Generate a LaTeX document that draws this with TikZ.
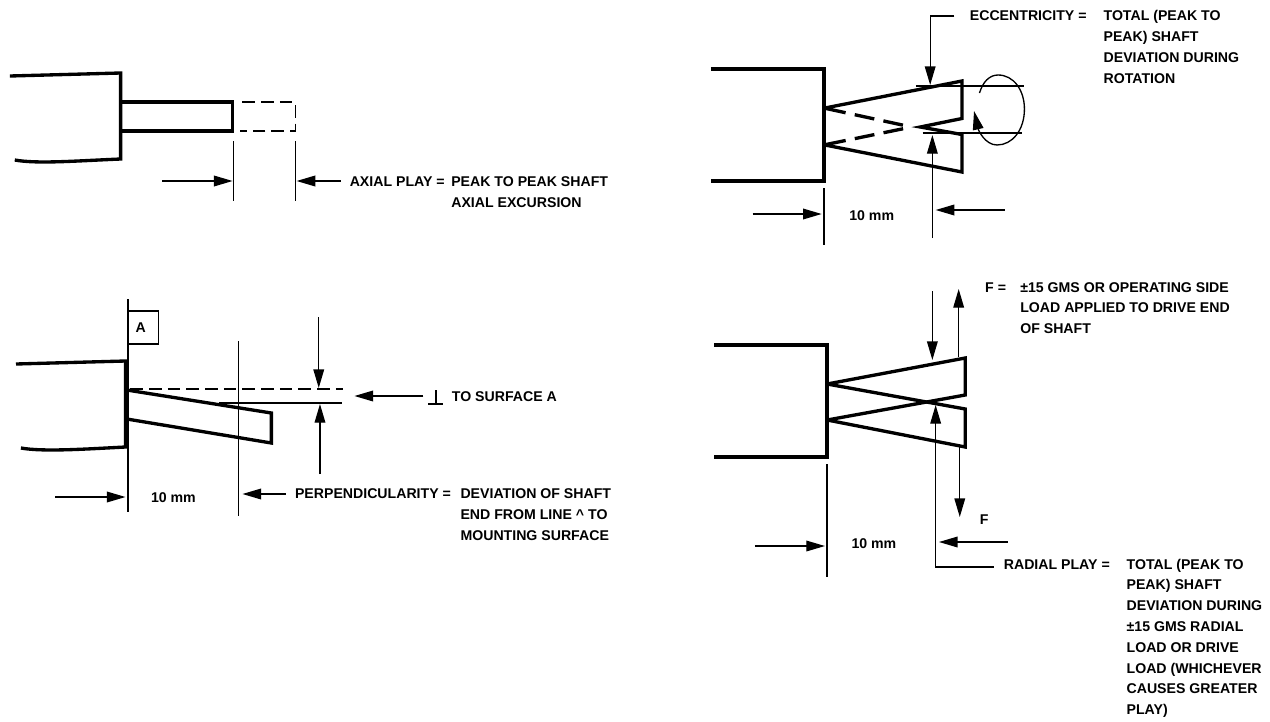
\documentclass[tikz,border=0pt]{standalone}
\usepackage{fontspec}
\setmainfont{Liberation Sans Bold}
\usetikzlibrary{arrows.meta}
\newcommand{\mlines}[1]{\begin{tabular}[t]{@{}l@{}}#1\end{tabular}}
\tikzset{
  thick line/.style={line width=2.5pt,line join=miter},
  thin line/.style={line width=1pt},
  dim/.style={line width=1pt,-{Triangle[length=14pt,width=8pt]}},
  dash thin/.style={line width=1pt,dash pattern=on 9.5pt off 4.5pt},
  dash mid/.style={line width=2.5pt,dash pattern=on 15pt off 7pt},
  txt/.style={anchor=base west,inner sep=0pt,font=\fontsize{10.6pt}{16.1pt}\selectfont},
  txtr/.style={anchor=base west,inner sep=0pt,font=\fontsize{10.6pt}{15.6pt}\selectfont}
}
\begin{document}
\begin{tikzpicture}[x=0.75pt,y=-0.75pt]
\useasboundingbox (0,0) rectangle (1270,721);
\begin{scope}[x=0.923pt]
% ---- axial play
\draw[thick line] (8,76) -- (98,73) -- (98,159) .. controls (60,161) and (30,164) .. (12,160);
\draw[thick line] (98,102) -- (189,102) -- (189,131) -- (98,131);
\draw[dash thin] (197,102) -- (240,102) -- (240,131) -- (195,131);
\draw[thin line] (190,141) -- (190,201);
\draw[thin line] (240,141) -- (240,201);
\draw[dim] (132,181) -- (189,181);
\draw[dim] (277,181) -- (241,181);
\node[txt] (axl) at (284,186) {AXIAL PLAY =};
\node[txt] (axt) at (366.5,186) {\mlines{PEAK TO PEAK SHAFT\\AXIAL EXCURSION}};
% ---- perpendicularity
\draw[thin line] (104,299) -- (104,512);
\draw[thin line] (104,311) -- (129,311) -- (129,344) -- (104,344);
\node[txt] (a) at (110,332) {A};
\draw[thick line] (13,364) -- (102,361) -- (102,447) .. controls (70,449) and (35,452) .. (17,448);
\draw[thick line] (103,390) -- (220.5,413) -- (220.5,443) -- (103,419);
\draw[dash thin] (106,389) -- (279,389);
\draw[thin line] (178,403) -- (278,403);
\draw[thin line] (194,341) -- (194,516);
\draw[dim] (259,317) -- (259,388);
\draw[dim] (260,474) -- (260,404);
\draw[dim] (344,396) -- (288,396);
\draw[line width=1.5pt] (354,390) -- (354,404);
\draw[line width=1.5pt] (348,404) -- (360,404);
\node[txt] (ts) at (367,401) {TO SURFACE A};
\draw[dim] (45,497) -- (102,497);
\node[txt] (t1) at (122.5,502) {10 mm};
\draw[dim] (232,494) -- (197,494);
\node[txt] (pl) at (239.5,498) {PERPENDICULARITY =};
\node[txt] (pt) at (374,498) {\mlines{DEVIATION OF SHAFT\\END FROM LINE \^{} TO\\MOUNTING SURFACE}};
\end{scope}
\begin{scope}[x=0.822pt,xshift=-50.4pt]
% ---- eccentricity
\draw[thick line] (710,69) -- (813,69) -- (813,181) -- (710,181);
\draw[thick line] (814,108) -- (939,81) -- (939,118.5) -- (901,127) -- (939,134.5) -- (939,172) -- (814,145);
\draw[dash mid] (815,108.5) -- (893,127);
\draw[dash mid] (815,144.5) -- (893,127);
\draw[thin line] (897,86) -- (996,86);
\draw[thin line] (903,133) -- (994,133);
\draw[thin line,-{Triangle[length=14pt,width=8pt]}] (955,93) .. controls (958,82) and (964,75) .. (972,75) .. controls (986,75) and (996,90) .. (996,109) .. controls (996,130) and (985,145) .. (971,145) .. controls (960,145) and (954,130) .. (950,111);
\draw[dim] (932,16) -- (910,16) -- (910,85);
\draw[dim] (912,238) -- (912,135);
\draw[dim] (978,210) -- (915,210);
\draw[thin line] (813,188) -- (813,245);
\draw[dim] (748,214) -- (811,214);
\node[txtr] (t2) at (836,220) {10 mm};
\node[txtr] (el) at (946,21) {ECCENTRICITY =};
\node[txtr] (et) at (1068,21) {\mlines{TOTAL (PEAK TO\\PEAK) SHAFT\\DEVIATION DURING\\ROTATION}};
% ---- radial play
\draw[thick line] (713,345) -- (816,345) -- (816,457) -- (713,457);
\draw[thick line] (816,384) -- (942,358) -- (942,395) -- (816,420);
\draw[thick line] (816,384) -- (942,409) -- (942,447) -- (816,420);
\draw[dim] (912,291) -- (912,360);
\draw[dim] (936,357) -- (936,289);
\draw[dim] (937,447) -- (937,517);
\draw[dim] (968,567) -- (915,567) -- (915,405);
\draw[dim] (981,542) -- (918,542);
\node[txtr] (f) at (955,524) {F};
\draw[thin line] (816,464) -- (816,577);
\draw[dim] (750,546) -- (814,546);
\node[txtr] (t3) at (838,548) {10 mm};
\node[txtr] (fl) at (960,292) {F =};
\node[txtr] (ft) at (992,292) {\mlines{±15 GMS OR OPERATING SIDE\\LOAD APPLIED TO DRIVE END\\OF SHAFT}};
\node[txtr] (rl) at (977,569) {RADIAL PLAY =};
\node[txtr] (rt) at (1089,569) {\mlines{TOTAL (PEAK TO\\PEAK) SHAFT\\DEVIATION DURING\\±15 GMS RADIAL\\LOAD OR DRIVE\\LOAD (WHICHEVER\\CAUSES GREATER\\PLAY)}};
\end{scope}
\end{tikzpicture}
\end{document}
